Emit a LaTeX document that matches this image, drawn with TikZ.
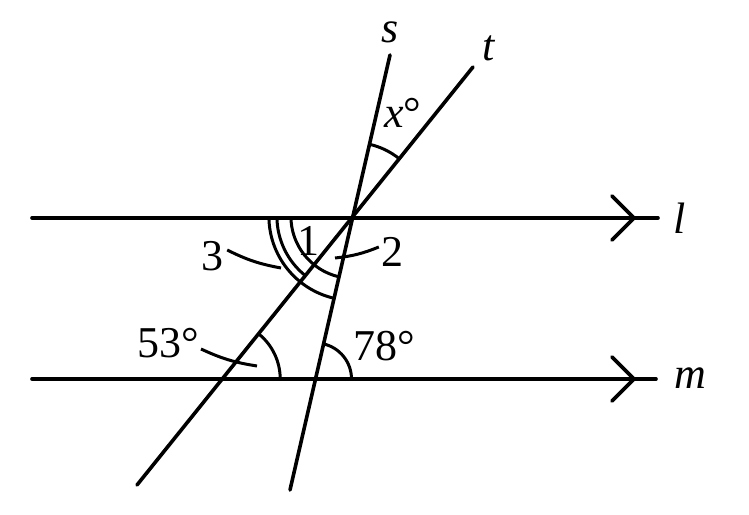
\documentclass[tikz,border=0pt]{standalone}
\usepackage{fontspec}
\setmainfont{Liberation Serif}
\usetikzlibrary{calc}
\begin{document}
\begin{tikzpicture}[x=1pt,y=1pt,
  ln/.style={line width=3.6pt,line cap=round},
  mk/.style={line width=3pt},
  lbl/.style={inner sep=0pt,font=\fontsize{44}{48}\selectfont},
  ilbl/.style={inner sep=0pt,font=\fontsize{44}{48}\selectfont\itshape}]
\useasboundingbox (0,0) rectangle (749,514);
% endpoints
\coordinate (l1) at (32,296); \coordinate (l2) at (658,296);
\coordinate (m1) at (32,135); \coordinate (m2) at (656,135);
\coordinate (s1) at (390,459); \coordinate (s2) at (290,24);
\coordinate (t1) at (473,447); \coordinate (t2) at (137,29);
\coordinate (P) at (intersection of s1--s2 and t1--t2);
\coordinate (Qt) at (intersection of t1--t2 and m1--m2);
\coordinate (Qs) at (intersection of s1--s2 and m1--m2);
% lines
\draw[ln] (l1) -- (l2);
\draw[ln] (m1) -- (m2);
\draw[ln] (s1) -- (s2);
\draw[ln] (t1) -- (t2);
% chevrons
\coordinate (la) at (634,296);
\coordinate (ma) at (634,135);
\draw[ln,line join=miter] ($(la)+(-22,22)$) -- (la) -- ($(la)+(-22,-22)$);
\draw[ln,line join=miter] ($(ma)+(-22,22)$) -- (ma) -- ($(ma)+(-22,-22)$);
% angle marks at P
\draw[mk] ($(P)+(180:84)$) arc[start angle=180,end angle=257,radius=84];
\draw[mk] ($(P)+(180:76)$) arc[start angle=180,end angle=231.2,radius=76];
\draw[mk] ($(P)+(180:62)$) arc[start angle=180,end angle=257,radius=62];
\draw[mk] ($(P)+(51.2:74)$) arc[start angle=51.2,end angle=77,radius=74];
% angle marks at m
\draw[mk] ($(Qt)+(0:58)$) arc[start angle=0,end angle=51.2,radius=58];
\draw[mk] ($(Qs)+(0:36)$) arc[start angle=0,end angle=77,radius=36];
% labels
\node[ilbl] (ls) at (390,482) {s};
\node[ilbl] (lt) at (489,466) {t};
\node[lbl] (lx) at (403,401) {\itshape x\upshape°};
\node[ilbl] (ll) at (680,296) {l};
\node[ilbl] (lm) at (690,136) {m};
\node[lbl] (n1) at (308,273) {1};
\node[lbl] (n2) at (392,262) {2};
\node[lbl] (n3) at (212,258) {3};
\node[lbl] (a53) at (168,171) {53°};
\node[lbl] (a78) at (384,168) {78°};
% leaders
\coordinate (e3) at (281,246);
\coordinate (e2) at (335,256);
\coordinate (e53) at (257,148);
\draw[mk] ($(n3.east)+(4,6)$) to[bend right=8] (e3);
\draw[mk] ($(n2.west)+(-2,5)$) to[bend left=8] (e2);
\draw[mk] ($(a53.east)+(2,-6)$) to[bend right=8] (e53);
\end{tikzpicture}
\end{document}
